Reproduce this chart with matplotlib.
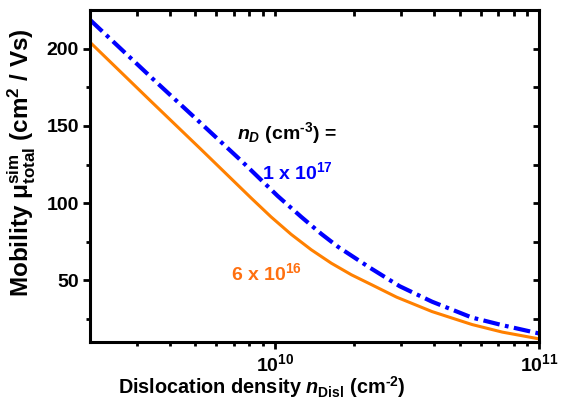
import matplotlib
matplotlib.use("Agg")
import matplotlib.pyplot as plt
from matplotlib.ticker import FixedLocator, NullFormatter, FixedFormatter

plt.rcParams['font.family'] = ['Liberation Sans', 'DejaVu Sans']
plt.rcParams['font.weight'] = 'bold'
plt.rcParams['mathtext.fontset'] = 'custom'
plt.rcParams['mathtext.rm'] = 'Liberation Sans:bold'
plt.rcParams['mathtext.bf'] = 'Liberation Sans:bold'
plt.rcParams['mathtext.it'] = 'Liberation Sans:bold:italic'
plt.rcParams['mathtext.sf'] = 'Liberation Sans:bold'
plt.rcParams['mathtext.default'] = 'rm'

# Data
disl_6e16 = [2.0e9, 3.38e9, 5.24e9, 8.12e9, 9.67e9, 1.152e10, 1.373e10, 1.635e10,
             1.948e10, 2.321e10, 2.89e10, 3.93e10, 5.57e10, 7.25e10, 1.0e11]
mob_6e16 = [204.1, 166.3, 135.0, 103.4, 91.1, 79.8, 69.8, 61.1,
            53.6, 47.2, 39.1, 29.8, 21.4, 16.5, 12.1]

disl_1e17 = [2.0e9, 3.53e9, 5.24e9, 7.55e9, 1.025e10, 1.258e10, 1.498e10, 1.734e10,
             2.287e10, 2.966e10, 3.93e10, 5.57e10, 7.25e10, 1.0e11]
mob_1e17 = [218.6, 178.9, 151.8, 126.6, 104.6, 91.1, 80.1, 71.7,
            58.2, 46.2, 36.2, 25.9, 21.0, 15.6]

x_major = [1e10, 1e11]
x_major_labels = [r'$10^{10}$', r'$10^{11}$']
x_minor = [3e9, 4e9, 5e9, 6e9, 7e9, 8e9, 9e9, 2e10, 3e10, 4e10, 5e10, 6e10, 7e10, 8e10, 9e10]
y_major = [50, 100, 150, 200]
y_minor = [25, 75, 125, 175]

fig = plt.figure(figsize=(5.67, 4.03), dpi=100)
ax = fig.add_axes([0.159, 0.151, 0.792, 0.824])

blue = '#0000FF'
orange = '#FF8000'
ax.plot(disl_1e17, mob_1e17, color=blue, lw=3.0,
        linestyle=(0, (4.0, 1.3, 0.9, 1.3)), solid_capstyle='butt')
ax.plot(disl_6e16, mob_6e16, color=orange, lw=2.2)

ax.set_xscale('log')
ax.set_xlim(2e9, 1e11)
ax.set_ylim(10, 225)

ax.xaxis.set_major_locator(FixedLocator(x_major))
ax.xaxis.set_major_formatter(FixedFormatter(x_major_labels))
ax.xaxis.set_minor_locator(FixedLocator(x_minor))
ax.xaxis.set_minor_formatter(NullFormatter())
ax.yaxis.set_major_locator(FixedLocator(y_major))
ax.yaxis.set_minor_locator(FixedLocator(y_minor))

for s in ax.spines.values():
    s.set_linewidth(2.2)

ax.tick_params(which='major', direction='out', length=5, width=2, labelsize=14, pad=3)
ax.tick_params(which='minor', direction='out', length=3, width=2)

secx = ax.secondary_xaxis('top')
secx.xaxis.set_major_locator(FixedLocator(x_major))
secx.xaxis.set_minor_locator(FixedLocator(x_minor))
secx.tick_params(which='both', direction='in', length=4, width=2, labeltop=False)
secx.xaxis.set_minor_formatter(NullFormatter())
secy = ax.secondary_yaxis('right')
secy.yaxis.set_major_locator(FixedLocator(y_major))
secy.yaxis.set_minor_locator(FixedLocator(y_minor))
secy.tick_params(which='both', direction='in', length=4, width=2, labelright=False)

ax.set_xlabel(r'Dislocation density $\mathit{n}_{\mathrm{Disl}}$ (cm$^{\mathrm{‐2}}$)',
              fontsize=14.3, fontweight='bold', labelpad=0)
ax.xaxis.set_label_coords(0.383, -0.095)
ax.set_ylabel(r'Mobility $μ_{\mathrm{total}}^{\mathrm{sim}}$ (cm$^{2}$ / Vs)',
              fontsize=17.5, fontweight='bold')
ax.yaxis.set_label_coords(-0.116, 0.54)

ax.text(0.439, 0.63, r'$\mathit{n}_{\mathit{D}}$ (cm$^{\mathrm{‐3}}$) =', transform=ax.transAxes,
        fontsize=14, fontweight='bold', color='black', ha='center', va='center')
ax.text(0.462, 0.512, r'1 x 10$^{17}$', transform=ax.transAxes,
        fontsize=14, fontweight='bold', color=blue, ha='center', va='center')
ax.text(0.393, 0.208, r'6 x 10$^{16}$', transform=ax.transAxes,
        fontsize=14, fontweight='bold', color='#FF7010', ha='center', va='center')

fig.savefig('out.png', dpi=100)
